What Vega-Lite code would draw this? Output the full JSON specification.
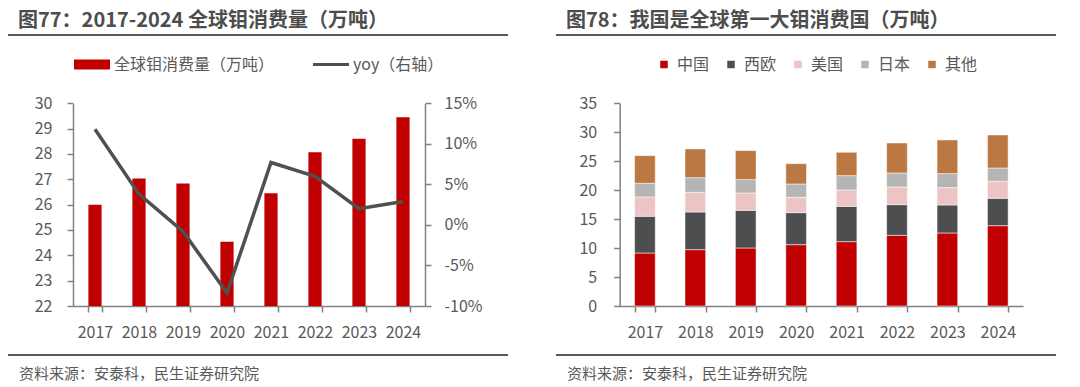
{
  "$schema": "https://vega.github.io/schema/vega-lite/v6.json",
  "background": "white",
  "padding": {"left": 7, "top": 11, "right": 0, "bottom": 0},
  "datasets": {
    "rule": [{"s": 0, "e": 1, "p": 0}, {"s": 0, "e": 1, "p": 1}],
    "cons": [
      {"year": "2017", "value": 26.0, "yoy": 0.118},
      {"year": "2018", "value": 27.03, "yoy": 0.038},
      {"year": "2019", "value": 26.83, "yoy": -0.008},
      {"year": "2020", "value": 24.54, "yoy": -0.084},
      {"year": "2021", "value": 26.45, "yoy": 0.077},
      {"year": "2022", "value": 28.07, "yoy": 0.06},
      {"year": "2023", "value": 28.6, "yoy": 0.02},
      {"year": "2024", "value": 29.45, "yoy": 0.029}
    ],
    "reg": [
      {"year": "2017", "region": "中国", "rank": 1, "value": 9.15},
      {"year": "2017", "region": "西欧", "rank": 2, "value": 6.34},
      {"year": "2017", "region": "美国", "rank": 3, "value": 3.34},
      {"year": "2017", "region": "日本", "rank": 4, "value": 2.36},
      {"year": "2017", "region": "其他", "rank": 5, "value": 4.77},
      {"year": "2018", "region": "中国", "rank": 1, "value": 9.73},
      {"year": "2018", "region": "西欧", "rank": 2, "value": 6.5},
      {"year": "2018", "region": "美国", "rank": 3, "value": 3.4},
      {"year": "2018", "region": "日本", "rank": 4, "value": 2.53},
      {"year": "2018", "region": "其他", "rank": 5, "value": 4.96},
      {"year": "2019", "region": "中国", "rank": 1, "value": 10.02},
      {"year": "2019", "region": "西欧", "rank": 2, "value": 6.5},
      {"year": "2019", "region": "美国", "rank": 3, "value": 3.0},
      {"year": "2019", "region": "日本", "rank": 4, "value": 2.3},
      {"year": "2019", "region": "其他", "rank": 5, "value": 5.01},
      {"year": "2020", "region": "中国", "rank": 1, "value": 10.59},
      {"year": "2020", "region": "西欧", "rank": 2, "value": 5.53},
      {"year": "2020", "region": "美国", "rank": 3, "value": 2.65},
      {"year": "2020", "region": "日本", "rank": 4, "value": 2.3},
      {"year": "2020", "region": "其他", "rank": 5, "value": 3.51},
      {"year": "2021", "region": "中国", "rank": 1, "value": 11.11},
      {"year": "2021", "region": "西欧", "rank": 2, "value": 6.1},
      {"year": "2021", "region": "美国", "rank": 3, "value": 2.82},
      {"year": "2021", "region": "日本", "rank": 4, "value": 2.48},
      {"year": "2021", "region": "其他", "rank": 5, "value": 4.03},
      {"year": "2022", "region": "中国", "rank": 1, "value": 12.2},
      {"year": "2022", "region": "西欧", "rank": 2, "value": 5.3},
      {"year": "2022", "region": "美国", "rank": 3, "value": 3.05},
      {"year": "2022", "region": "日本", "rank": 4, "value": 2.42},
      {"year": "2022", "region": "其他", "rank": 5, "value": 5.18},
      {"year": "2023", "region": "中国", "rank": 1, "value": 12.61},
      {"year": "2023", "region": "西欧", "rank": 2, "value": 4.83},
      {"year": "2023", "region": "美国", "rank": 3, "value": 3.0},
      {"year": "2023", "region": "日本", "rank": 4, "value": 2.42},
      {"year": "2023", "region": "其他", "rank": 5, "value": 5.81},
      {"year": "2024", "region": "中国", "rank": 1, "value": 13.87},
      {"year": "2024", "region": "西欧", "rank": 2, "value": 4.73},
      {"year": "2024", "region": "美国", "rank": 3, "value": 2.93},
      {"year": "2024", "region": "日本", "rank": 4, "value": 2.3},
      {"year": "2024", "region": "其他", "rank": 5, "value": 5.7}
    ]
  },
  "config": {
    "view": {"stroke": null},
    "font": "Noto Sans CJK SC",
    "locale": {"number": {"decimal": ".", "thousands": ",", "grouping": [3], "currency": ["", ""], "minus": "-"}},
    "axis": {"domainColor": "#808080", "domainWidth": 1.5, "tickColor": "#808080", "tickWidth": 1.5, "tickSize": 6, "labelFontSize": 16, "labelColor": "#595959", "labelFont": "Noto Sans CJK SC", "grid": false},
    "legend": {"labelFont": "Noto Sans CJK SC", "labelFontSize": 16, "labelColor": "#595959", "padding": 0, "symbolStrokeWidth": 0, "labelLimit": 400},
    "title": {"font": "Noto Sans CJK SC"}
  },
  "spacing": 46,
  "resolve": {"scale": {"color": "independent"}},
  "hconcat": [
    {
      "width": 500,
      "height": 320,
      "title": {"text": "图77：2017-2024 全球钼消费量（万吨）", "anchor": "start", "dx": 11, "offset": 3, "fontSize": 20, "fontWeight": "bold", "color": "#4d4d4d"},
      "resolve": {"scale": {"x": "independent", "y": "independent"}},
      "layer": [
        {
          "data": {"name": "cons"},
          "mark": {"type": "bar"},
          "encoding": {
            "x": {"field": "year", "type": "nominal", "scale": {"range": [65, 417], "paddingInner": 0.7, "paddingOuter": 0.35}, "axis": {"title": null, "labelAngle": 0, "tickBand": "extent", "labelPadding": 12, "offset": -49}},
            "y": {"field": "value", "type": "quantitative", "scale": {"domain": [22, 30], "range": [271, 68.3], "zero": false, "nice": false}, "axis": {"values": [22, 23, 24, 25, 26, 27, 28, 29, 30], "labelPadding": 15, "title": null, "offset": -65}},
            "y2": {"datum": 22},
            "color": {
              "datum": "全球钼消费量（万吨）",
              "type": "nominal",
              "scale": {"domain": ["全球钼消费量（万吨）", "yoy（右轴）"], "range": ["#c00000", "#505050"]},
              "legend": {
                "orient": "none", "legendX": 66, "legendY": 11.5, "direction": "horizontal", "title": null,
                "symbolSize": 1296, "labelOffset": 4, "columnPadding": 38,
                "encode": {
                  "symbols": {
                    "update": {
                      "shape": {"signal": "datum.value === 'yoy（右轴）' ? 'M-1,-0.09H1V0.09H-1Z' : 'M-1,-0.28H1V0.28H-1Z'"},
                      "fill": {"signal": "datum.value === 'yoy（右轴）' ? '#505050' : '#c00000'"},
                      "stroke": {"value": "transparent"},
                      "opacity": {"value": 1},
                      "fillOpacity": {"value": 1}
                    }
                  }
                }
              }
            }
          }
        },
        {
          "data": {"name": "cons"},
          "mark": {"type": "line", "strokeWidth": 3.5},
          "encoding": {
            "x": {"field": "year", "type": "nominal", "scale": {"range": [65, 417], "paddingInner": 0.7, "paddingOuter": 0.35}, "axis": null},
            "y": {"field": "yoy", "type": "quantitative", "scale": {"domain": [-0.1, 0.15], "range": [271, 68.3], "zero": false, "nice": false}, "axis": {"orient": "right", "values": [-0.1, -0.05, 0, 0.05, 0.1, 0.15], "format": ".0%", "labelPadding": 13, "title": null, "offset": -83}},
            "color": {"datum": "yoy（右轴）", "type": "nominal"}
          }
        },
        {
          "data": {"name": "rule"},
          "mark": {"type": "rule", "color": "#595959", "strokeWidth": 2},
          "encoding": {
            "x": {"field": "s", "type": "quantitative", "scale": {"domain": [0, 1]}, "axis": null},
            "x2": {"field": "e"},
            "y": {"field": "p", "type": "quantitative", "scale": {"domain": [0, 1]}, "axis": null}
          }
        },
        {
          "data": {"values": [{"t": "资料来源：安泰科，民生证券研究院", "x": 0, "y": 0}]},
          "mark": {"type": "text", "align": "left", "baseline": "middle", "fontSize": 15, "color": "#595959", "dx": 11, "dy": 19},
          "encoding": {
            "text": {"field": "t"},
            "x": {"field": "x", "type": "quantitative", "scale": {"domain": [0, 1]}, "axis": null},
            "y": {"field": "y", "type": "quantitative", "scale": {"domain": [0, 1]}, "axis": null}
          }
        }
      ]
    },
    {
      "width": 500,
      "height": 320,
      "title": {"text": "图78：我国是全球第一大钼消费国（万吨）", "anchor": "start", "dx": 11, "offset": 3, "fontSize": 20, "fontWeight": "bold", "color": "#4d4d4d"},
      "resolve": {"scale": {"x": "independent", "y": "independent"}},
      "layer": [
        {
          "data": {"name": "reg"},
          "mark": {"type": "bar", "stroke": "#ffffff", "strokeWidth": 0.5},
          "encoding": {
            "x": {"field": "year", "type": "nominal", "scale": {"range": [63.7, 467], "paddingInner": 0.59, "paddingOuter": 0.295}, "axis": {"title": null, "labelAngle": 0, "tickBand": "extent", "labelPadding": 12, "offset": -49}},
            "y": {"field": "value", "type": "quantitative", "stack": "zero", "scale": {"domain": [0, 35], "range": [271, 68.3], "nice": false}, "axis": {"values": [0, 5, 10, 15, 20, 25, 30, 35], "labelPadding": 17, "title": null, "offset": -63.7}},
            "color": {
              "field": "region", "type": "nominal",
              "scale": {"domain": ["中国", "西欧", "美国", "日本", "其他"], "range": ["#c00000", "#4d4e50", "#ecc4c4", "#b5b5b5", "#bc7843"]},
              "legend": {"orient": "none", "legendX": 100, "legendY": 21.5, "direction": "horizontal", "title": null, "symbolType": "square", "symbolSize": 56, "labelOffset": 5, "columnPadding": 13}
            },
            "order": {"field": "rank", "type": "quantitative"}
          }
        },
        {
          "data": {"name": "rule"},
          "mark": {"type": "rule", "color": "#595959", "strokeWidth": 2},
          "encoding": {
            "x": {"field": "s", "type": "quantitative", "scale": {"domain": [0, 1]}, "axis": null},
            "x2": {"field": "e"},
            "y": {"field": "p", "type": "quantitative", "scale": {"domain": [0, 1]}, "axis": null}
          }
        },
        {
          "data": {"values": [{"t": "资料来源：安泰科，民生证券研究院", "x": 0, "y": 0}]},
          "mark": {"type": "text", "align": "left", "baseline": "middle", "fontSize": 15, "color": "#595959", "dx": 11, "dy": 19},
          "encoding": {
            "text": {"field": "t"},
            "x": {"field": "x", "type": "quantitative", "scale": {"domain": [0, 1]}, "axis": null},
            "y": {"field": "y", "type": "quantitative", "scale": {"domain": [0, 1]}, "axis": null}
          }
        }
      ]
    }
  ]
}
